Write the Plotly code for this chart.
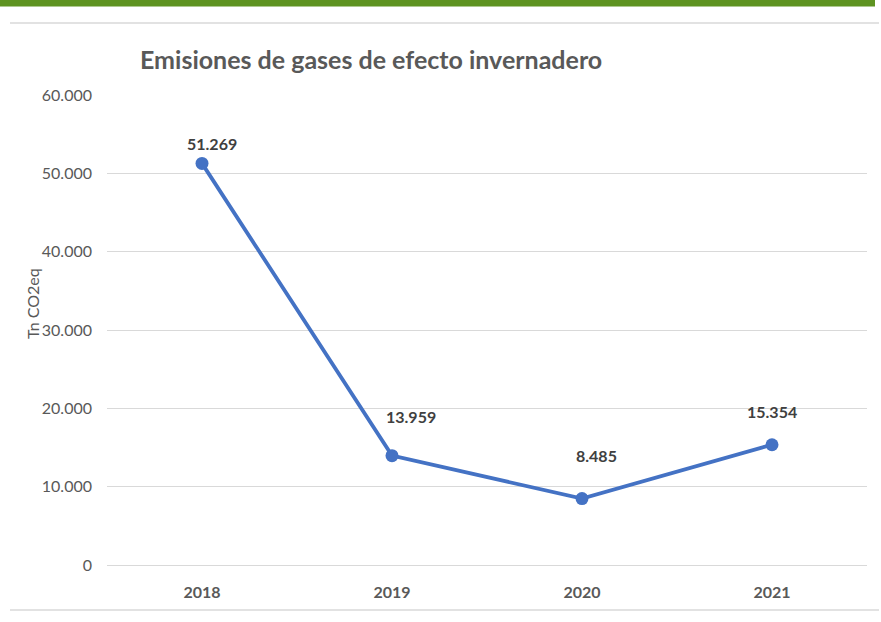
import plotly.graph_objects as go

years = ["2018", "2019", "2020", "2021"]
emissions = [51269, 13959, 8485, 15354]
y_ticks = [0, 10000, 20000, 30000, 40000, 50000, 60000]
y_tick_labels = ["0", "10.000", "20.000", "30.000", "40.000", "50.000", "60.000"]
label_texts = ["51.269", "13.959", "8.485", "15.354"]

# per-label offsets (style)
label_yshift = [20, 39, 43, 33]
label_xshift = [10, 19, 14, 0]

FONT = "Lato"
GRAY = "#595959"

fig = go.Figure()
fig.add_trace(go.Scatter(
    x=years, y=emissions, mode="lines+markers",
    line=dict(color="#4472C4", width=3.8),
    marker=dict(color="#4472C4", size=13),
    hoverinfo="skip", showlegend=False,
))

for i, (y, t, ys, xs) in enumerate(zip(emissions, label_texts, label_yshift, label_xshift)):
    fig.add_annotation(x=i, y=y, xref="x", yref="y", text="<b>%s</b>" % t, showarrow=False,
                       yshift=ys, xshift=xs,
                       font=dict(family=FONT, size=16, color="#404040"))

L, R, T, B = 107, 14, 95, 57
W, H = 881, 622
pw, ph = W - L - R, H - T - B

def px(xp):
    return (xp - L) / pw

def py(yp):
    return (H - B - yp) / ph

shapes = [
    dict(type="rect", xref="paper", yref="paper", x0=px(0), x1=px(875), y0=py(6.5), y1=py(-2),
         fillcolor="#5E9321", line=dict(width=0), layer="above"),
    dict(type="line", xref="paper", yref="paper", x0=px(10), x1=px(879), y0=py(23), y1=py(23),
         line=dict(color="#D9D9D9", width=1.5)),
    dict(type="line", xref="paper", yref="paper", x0=px(10), x1=px(879), y0=py(610), y1=py(610),
         line=dict(color="#D9D9D9", width=1.5)),
]

fig.add_annotation(xref="paper", yref="paper", x=px(32), y=py(304), text="Tn CO2eq",
                   textangle=-90, showarrow=False, xanchor="center", yanchor="middle",
                   font=dict(family=FONT, size=16, color=GRAY))

fig.update_layout(
    width=W, height=H,
    margin=dict(l=L, r=R, t=T, b=B, autoexpand=False),
    paper_bgcolor="white", plot_bgcolor="white",
    separators=",.",
    shapes=shapes,
    title=dict(text="<b>Emisiones de gases de efecto invernadero</b>",
               x=140 / W, xanchor="left", xref="container",
               y=1 - 60 / H, yanchor="middle", yref="container",
               font=dict(family=FONT, size=25, color=GRAY)),
    xaxis=dict(type="category", showgrid=False, showline=True, linecolor="#D9D9D9", linewidth=1,
               ticks="", tickfont=dict(family=FONT, size=16, color=GRAY),
               ticktext=["<b>%s</b>" % y for y in years], tickvals=years,
               ticklabelstandoff=13,
               range=[-0.5, 3.5], fixedrange=True),
    yaxis=dict(range=[0, 60000], tickvals=y_ticks, ticktext=y_tick_labels,
               showgrid=True, gridcolor="#D9D9D9", gridwidth=1, zeroline=False,
               showline=False, ticks="", ticklabelstandoff=14,
               tickfont=dict(family=FONT, size=16, color=GRAY), fixedrange=True),
)

fig.write_html("out.html", config={"displayModeBar": False},
               post_script="document.body.style.margin='0';")
